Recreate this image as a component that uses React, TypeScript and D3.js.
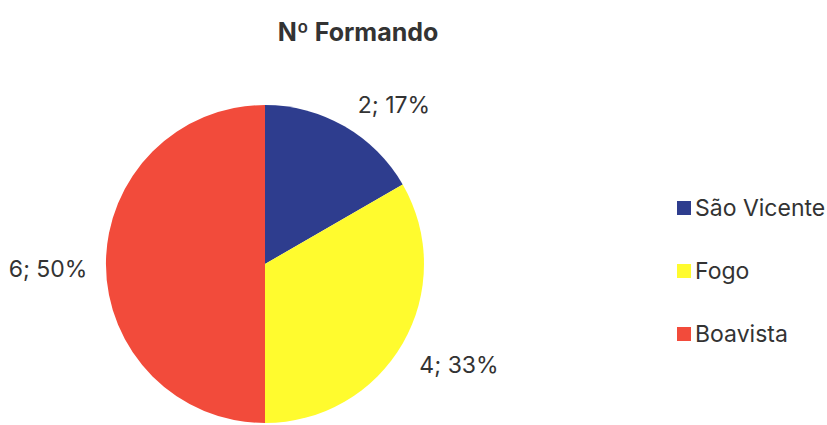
import React from "react";
import * as d3 from "d3";

const categories = ["São Vicente", "Fogo", "Boavista"];
const values = [2, 4, 6];
const colors = ["#2E3D8E", "#FFFB2E", "#F24B3B"];
const chartTitle = "Nº Formando";

const W = 827;
const H = 425;
const cx = 265;
const cy = 264;
const radius = 159;

const App: React.FC = () => {
  const total = d3.sum(values);
  const pie = d3
    .pie<number>()
    .value((d) => d)
    .sort(null);
  const arcs = pie(values);
  const arc = d3.arc<d3.PieArcDatum<number>>().innerRadius(0).outerRadius(radius);

  // label positions, roughly like the original office chart
  const labelPos: [number, number][] = [
    [394, 113],
    [459, 373],
    [48, 277],
  ];

  const legendY = d3
    .scalePoint<string>()
    .domain(categories)
    .range([208, 334]);

  return (
    <svg
      width={W}
      height={H}
      style={{ position: "absolute", left: 0, top: 0, background: "#fff" }}
      fontFamily="Inter, 'Noto Sans', sans-serif"
    >
      <text
        x={358}
        y={41}
        textAnchor="middle"
        fontSize={25}
        fontWeight="bold"
        fill="#333"
      >
        {chartTitle}
      </text>
      <g transform={`translate(${cx},${cy})`}>
        {arcs.map((a, i) => (
          <path key={categories[i]} d={arc(a) || ""} fill={colors[i]} />
        ))}
      </g>
      {arcs.map((a, i) => (
        <text
          key={"l" + i}
          x={labelPos[i][0]}
          y={labelPos[i][1]}
          textAnchor="middle"
          fontSize={23}
          fill="#333"
        >
          {`${a.data}; ${Math.round((a.data / total) * 100)}%`}
        </text>
      ))}
      {categories.map((c, i) => (
        <g key={c} transform={`translate(677,${legendY(c)})`}>
          <rect x={0} y={-7} width={14} height={14} fill={colors[i]} />
          <text x={18} y={8} fontSize={23} fill="#333">
            {c}
          </text>
        </g>
      ))}
    </svg>
  );
};

export default App;
